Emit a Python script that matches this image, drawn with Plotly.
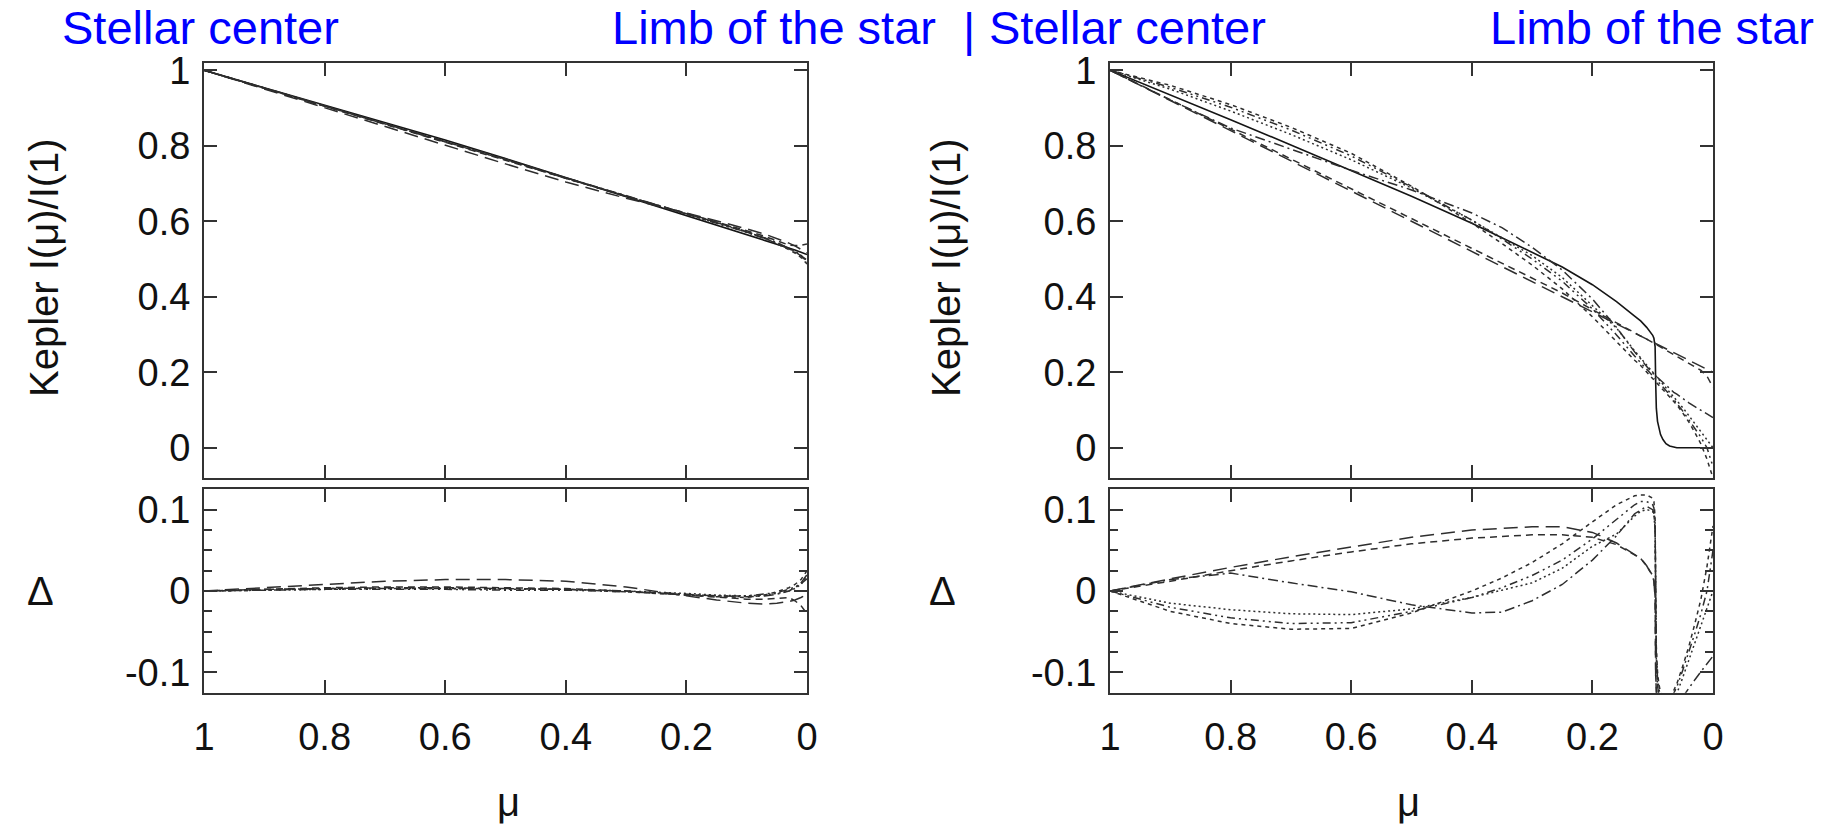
import plotly.graph_objects as go

# ---------------- data ----------------
x_tick_vals = [1, 0.8, 0.6, 0.4, 0.2, 0]
x_tick_text = ["1", "0.8", "0.6", "0.4", "0.2", "0"]
y_top_vals = [0, 0.2, 0.4, 0.6, 0.8, 1]
y_top_text = ["0", "0.2", "0.4", "0.6", "0.8", "1"]
y_bot_vals = [-0.1, 0, 0.1]
y_bot_text = ["-0.1", "0", "0.1"]

# Left panel (mu grid)
mu_L = [1, 0.9, 0.8, 0.7, 0.6, 0.5, 0.4, 0.3, 0.2, 0.15, 0.1, 0.07, 0.05, 0.03, 0.02, 0.01, 0]
model_L = [1.0, 0.954, 0.908, 0.862, 0.815, 0.766, 0.716, 0.666, 0.616, 0.591, 0.565, 0.55, 0.54, 0.529, 0.524, 0.518, 0.512]
fitL_1 = [1.0, 0.95, 0.9, 0.85, 0.801, 0.752, 0.704, 0.661, 0.622, 0.602, 0.58, 0.566, 0.555, 0.542, 0.535, 0.526, 0.516]
fitL_2 = [1.0, 0.952, 0.904, 0.857, 0.81, 0.762, 0.713, 0.666, 0.621, 0.599, 0.575, 0.56, 0.549, 0.537, 0.536, 0.536, 0.54]
fitL_3 = [1.0, 0.952, 0.905, 0.858, 0.811, 0.763, 0.714, 0.666, 0.62, 0.597, 0.572, 0.556, 0.544, 0.529, 0.52, 0.508, 0.492]
fitL_4 = [1.0, 0.953, 0.905, 0.859, 0.812, 0.763, 0.714, 0.667, 0.621, 0.598, 0.573, 0.555, 0.541, 0.525, 0.516, 0.504, 0.487]
fitL_5 = [1.0, 0.953, 0.906, 0.86, 0.813, 0.765, 0.715, 0.667, 0.62, 0.597, 0.571, 0.554, 0.542, 0.527, 0.519, 0.509, 0.497]
fitL_6 = [1.0, 0.953, 0.906, 0.859, 0.812, 0.764, 0.714, 0.666, 0.619, 0.596, 0.571, 0.555, 0.543, 0.529, 0.521, 0.51, 0.494]

dL_1 = [0, 0.004, 0.008, 0.012, 0.014, 0.014, 0.012, 0.005, -0.006, -0.011, -0.015, -0.016, -0.015, -0.013, -0.011, -0.008, -0.004]
dL_2 = [0, 0.002, 0.004, 0.005, 0.005, 0.004, 0.003, 0.0, -0.005, -0.008, -0.01, -0.01, -0.009, -0.008, -0.012, -0.018, -0.028]
dL_3 = [0, 0.002, 0.003, 0.004, 0.004, 0.003, 0.002, 0.0, -0.004, -0.006, -0.007, -0.006, -0.004, 0.0, 0.004, 0.01, 0.02]
dL_4 = [0, 0.001, 0.003, 0.003, 0.003, 0.003, 0.002, -0.001, -0.005, -0.007, -0.008, -0.005, -0.001, 0.004, 0.008, 0.014, 0.025]
dL_5 = [0, 0.001, 0.002, 0.002, 0.002, 0.001, 0.001, -0.001, -0.004, -0.006, -0.006, -0.004, -0.002, 0.002, 0.005, 0.009, 0.015]
dL_6 = [0, 0.001, 0.002, 0.003, 0.003, 0.002, 0.002, 0.0, -0.003, -0.005, -0.006, -0.005, -0.003, 0.0, 0.003, 0.008, 0.018]

# Right panel (mu grid, denser near the limb)
mu_R = [1, 0.9, 0.8, 0.7, 0.6, 0.5, 0.4, 0.35, 0.3, 0.25, 0.2, 0.16, 0.13, 0.12, 0.11, 0.1,
        0.098, 0.096, 0.095, 0.094, 0.092, 0.09, 0.087, 0.083, 0.078, 0.072, 0.065, 0.06,
        0.05, 0.04, 0.03, 0.02, 0.01, 0]
model_R = [1.0, 0.935, 0.869, 0.802, 0.734, 0.666, 0.595, 0.557, 0.519, 0.479, 0.432, 0.387, 0.349, 0.336, 0.319, 0.298,
           0.29, 0.268, 0.17, 0.105, 0.07, 0.052, 0.035, 0.022, 0.011, 0.005, 0.002, 0.0,
           0.0, 0.0, 0.0, 0.0, 0.0, 0.0]
fitR_A = [1.0, 0.92, 0.84, 0.76, 0.68, 0.6, 0.52, 0.48, 0.44, 0.4, 0.36, 0.328, 0.304, 0.296, 0.288, 0.28,
          0.278, 0.277, 0.276, 0.275, 0.274, 0.272, 0.27, 0.266, 0.262, 0.258, 0.252, 0.248,
          0.24, 0.232, 0.224, 0.216, 0.208, 0.2]
fitR_B = [1.0, 0.923, 0.844, 0.765, 0.686, 0.608, 0.53, 0.49, 0.45, 0.41, 0.366, 0.33, 0.305, 0.296, 0.288, 0.279,
          0.277, 0.275, 0.274, 0.273, 0.272, 0.27, 0.267, 0.264, 0.259, 0.254, 0.247, 0.243,
          0.234, 0.225, 0.215, 0.205, 0.19, 0.16]
fitR_C = [1.0, 0.921, 0.847, 0.792, 0.735, 0.683, 0.622, 0.583, 0.531, 0.471, 0.394, 0.319, 0.254, 0.236, 0.215, 0.198,
          0.195, 0.192, 0.19, 0.189, 0.186, 0.183, 0.178, 0.172, 0.165, 0.156, 0.147, 0.142,
          0.13, 0.119, 0.109, 0.099, 0.09, 0.08]
fitR_D = [1.0, 0.96, 0.909, 0.849, 0.78, 0.693, 0.595, 0.541, 0.484, 0.421, 0.347, 0.281, 0.232, 0.218, 0.201, 0.184,
          0.18, 0.177, 0.175, 0.173, 0.169, 0.165, 0.16, 0.155, 0.147, 0.137, 0.124, 0.114,
          0.092, 0.068, 0.04, 0.01, -0.03, -0.08]
fitR_E = [1.0, 0.955, 0.902, 0.842, 0.773, 0.691, 0.603, 0.553, 0.5, 0.441, 0.368, 0.299, 0.243, 0.226, 0.209, 0.192,
          0.188, 0.185, 0.183, 0.181, 0.177, 0.174, 0.168, 0.161, 0.152, 0.141, 0.128, 0.118,
          0.097, 0.075, 0.052, 0.028, 0.0, -0.05]
fitR_F = [1.0, 0.95, 0.892, 0.83, 0.763, 0.688, 0.603, 0.556, 0.509, 0.451, 0.377, 0.317, 0.257, 0.238, 0.219, 0.2,
          0.197, 0.193, 0.191, 0.19, 0.186, 0.183, 0.177, 0.17, 0.16, 0.149, 0.136, 0.126,
          0.106, 0.085, 0.064, 0.043, 0.021, 0.0]

dR_A = [0, 0.015, 0.029, 0.042, 0.054, 0.066, 0.075, 0.077, 0.079, 0.079, 0.072, 0.059, 0.045, 0.04, 0.031, 0.018,
        0.012, -0.009, -0.106, -0.17, -0.204, -0.22, -0.235, -0.244, -0.251, -0.253, -0.25, -0.248,
        -0.24, -0.232, -0.224, -0.216, -0.208, -0.2]
dR_B = [0, 0.012, 0.025, 0.037, 0.048, 0.058, 0.065, 0.067, 0.069, 0.069, 0.066, 0.057, 0.044, 0.04, 0.031, 0.019,
        0.013, -0.007, -0.104, -0.168, -0.202, -0.218, -0.232, -0.242, -0.248, -0.249, -0.245, -0.243,
        -0.234, -0.225, -0.215, -0.205, -0.19, -0.16]
dR_C = [0, 0.014, 0.022, 0.01, -0.001, -0.017, -0.027, -0.026, -0.012, 0.008, 0.038, 0.068, 0.095, 0.1, 0.104, 0.1,
        0.095, 0.076, -0.02, -0.084, -0.116, -0.131, -0.143, -0.15, -0.154, -0.151, -0.145, -0.142,
        -0.13, -0.119, -0.109, -0.099, -0.09, -0.08]
dR_D = [0, -0.025, -0.04, -0.047, -0.046, -0.027, 0.0, 0.016, 0.035, 0.058, 0.085, 0.106, 0.117, 0.118, 0.118, 0.114,
        0.11, 0.091, -0.005, -0.068, -0.099, -0.113, -0.125, -0.133, -0.136, -0.132, -0.122, -0.114,
        -0.092, -0.068, -0.04, -0.01, 0.03, 0.08]
dR_E = [0, -0.02, -0.033, -0.04, -0.039, -0.025, -0.008, 0.004, 0.019, 0.038, 0.064, 0.088, 0.106, 0.11, 0.11, 0.106,
        0.102, 0.083, -0.013, -0.076, -0.107, -0.122, -0.133, -0.139, -0.141, -0.136, -0.126, -0.118,
        -0.097, -0.075, -0.052, -0.028, 0.0, 0.05]
dR_F = [0, -0.015, -0.023, -0.028, -0.029, -0.022, -0.008, 0.001, 0.01, 0.028, 0.055, 0.07, 0.092, 0.098, 0.1, 0.098,
        0.093, 0.075, -0.021, -0.085, -0.116, -0.131, -0.142, -0.148, -0.149, -0.144, -0.134, -0.126,
        -0.106, -0.085, -0.064, -0.043, -0.021, 0.0]

header_texts = ["Stellar center", "Limb of the star", "|", "Stellar center", "Limb of the star"]
y_title = "Kepler I(\u03bc)/I(1)"
delta_title = "\u0394"
x_title = "\u03bc"

# ---------------- styling ----------------
FONT = "Liberation Sans, Arial, Helvetica, sans-serif"
INK_MODEL = "#151515"
INK_FIT = "#2e2e2e"
AX = "#333333"
dash_styles = ["14px,7px", "7px,5px", "10px,4px,2px,4px", "4px,4px",
               "8px,4px,2px,4px,2px,4px", "2px,3px"]

fig = go.Figure()

def add(x, y, xa, ya, dash, color=INK_FIT, width=1.5):
    fig.add_trace(go.Scatter(x=x, y=y, mode="lines", xaxis=xa, yaxis=ya,
                             line=dict(color=color, width=width, dash=dash),
                             showlegend=False, hoverinfo="skip"))

# left top
add(mu_L, model_L, "x", "y", "solid", INK_MODEL, 1.6)
for f, d in zip([fitL_1, fitL_2, fitL_3, fitL_4, fitL_5, fitL_6], dash_styles):
    add(mu_L, f, "x", "y", d)
# left bottom
for f, d in zip([dL_1, dL_2, dL_3, dL_4, dL_5, dL_6], dash_styles):
    add(mu_L, f, "x2", "y2", d)
# right top
add(mu_R, model_R, "x3", "y3", "solid", INK_MODEL, 1.6)
for f, d in zip([fitR_A, fitR_B, fitR_C, fitR_D, fitR_E, fitR_F], dash_styles):
    add(mu_R, f, "x3", "y3", d)
# right bottom
for f, d in zip([dR_A, dR_B, dR_C, dR_D, dR_E, dR_F], dash_styles):
    add(mu_R, f, "x4", "y4", d)

W, H = 1825, 824
def px(v):
    return v / W
def py(v):
    return 1 - v / H

dom_L = [px(204), px(807)]
dom_R = [px(1110), px(1713)]
dom_T = [py(478), py(62.7)]
dom_B = [py(692.7), py(489.3)]

tickfont = dict(family=FONT, size=38, color="#111")

def xax(domain, anchor, labels):
    return dict(domain=domain, anchor=anchor, range=[1, 0], tickvals=x_tick_vals, ticktext=x_tick_text,
                showticklabels=labels, ticks="inside", ticklen=13, tickwidth=1.5, tickcolor=AX,
                showline=True, linecolor=AX, linewidth=2, mirror="ticks", showgrid=False, zeroline=False,
                tickfont=tickfont, ticklabelstandoff=10, automargin=False)

def yax_top(domain, anchor):
    return dict(domain=domain, anchor=anchor, range=[-0.08, 1.02], tickvals=y_top_vals, ticktext=y_top_text,
                ticks="inside", ticklen=13, tickwidth=1.5, tickcolor=AX,
                showline=True, linecolor=AX, linewidth=2, mirror="ticks", showgrid=False, zeroline=False,
                tickfont=tickfont, ticklabelstandoff=4, automargin=False)

def yax_bot(domain, anchor):
    return dict(domain=domain, anchor=anchor, range=[-0.125, 0.125], tickvals=y_bot_vals, ticktext=y_bot_text,
                ticks="inside", ticklen=13, tickwidth=1.5, tickcolor=AX,
                minor=dict(dtick=0.025, tick0=0, ticks="inside", ticklen=8, tickwidth=1.5, tickcolor=AX,
                           showgrid=False),
                showline=True, linecolor=AX, linewidth=2, mirror="ticks", showgrid=False, zeroline=False,
                tickfont=tickfont, ticklabelstandoff=4, automargin=False)

annotations = []
hdr_font = dict(family=FONT, size=47, color="#0000ff")
annotations.append(dict(text=header_texts[0], x=px(60), y=py(28), xanchor="left", yanchor="middle",
                        showarrow=False, xref="paper", yref="paper", font=hdr_font))
annotations.append(dict(text=header_texts[1], x=px(938), y=py(28), xanchor="right", yanchor="middle",
                        showarrow=False, xref="paper", yref="paper", font=hdr_font))
annotations.append(dict(text=header_texts[2], x=px(969), y=py(30), xanchor="center", yanchor="middle",
                        showarrow=False, xref="paper", yref="paper", font=hdr_font))
annotations.append(dict(text=header_texts[3], x=px(987), y=py(28), xanchor="left", yanchor="middle",
                        showarrow=False, xref="paper", yref="paper", font=hdr_font))
annotations.append(dict(text=header_texts[4], x=px(1816), y=py(28), xanchor="right", yanchor="middle",
                        showarrow=False, xref="paper", yref="paper", font=hdr_font))

title_font = dict(family=FONT, size=40, color="#111")
for xc in [44, 946]:
    annotations.append(dict(text=y_title, x=px(xc), y=py(268), textangle=-90, xanchor="center", yanchor="middle",
                            showarrow=False, xref="paper", yref="paper", font=title_font))
for xc in [40, 942]:
    annotations.append(dict(text=delta_title, x=px(xc), y=py(591), xanchor="center", yanchor="middle",
                            showarrow=False, xref="paper", yref="paper", font=title_font))
for xc in [508, 1408]:
    annotations.append(dict(text=x_title, x=px(xc), y=py(802), xanchor="center", yanchor="middle",
                            showarrow=False, xref="paper", yref="paper", font=title_font))

fig.update_layout(
    template="none",
    width=W, height=H, margin=dict(l=0, r=0, t=0, b=0),
    paper_bgcolor="white", plot_bgcolor="white",
    xaxis=xax(dom_L, "y", False), yaxis=yax_top(dom_T, "x"),
    xaxis2=xax(dom_L, "y2", True), yaxis2=yax_bot(dom_B, "x2"),
    xaxis3=xax(dom_R, "y3", False), yaxis3=yax_top(dom_T, "x3"),
    xaxis4=xax(dom_R, "y4", True), yaxis4=yax_bot(dom_B, "x4"),
    annotations=annotations,
)

fig.write_html("out.html")
